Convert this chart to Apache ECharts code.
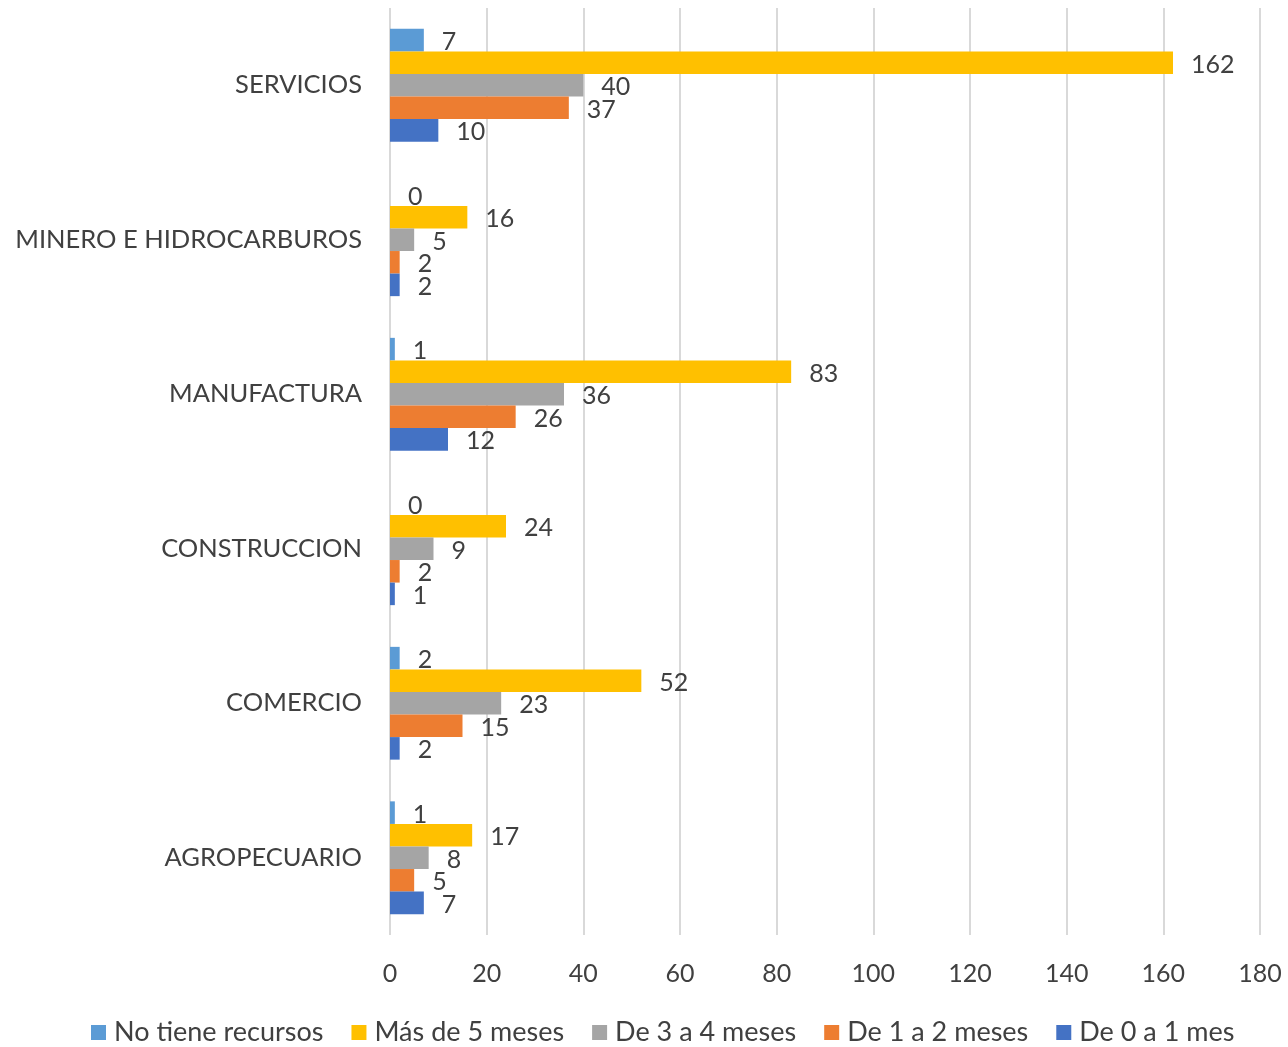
<!DOCTYPE html>
<html>
<head>
<meta charset="utf-8">
<script src="https://cdn.jsdelivr.net/npm/echarts@6/dist/echarts.min.js"></script>
<style>
  html, body { margin: 0; padding: 0; background: #fff; }
  #main { width: 1288px; height: 1047px; }
</style>
</head>
<body>
<div id="main"></div>
<script>
// categories, bottom to top (echarts draws the first category at the bottom)
const categories = ['AGROPECUARIO', 'COMERCIO', 'CONSTRUCCION', 'MANUFACTURA', 'MINERO E HIDROCARBUROS', 'SERVICIOS'];

const noTieneRecursos = [1, 2, 0, 1, 0, 7];
const masDeCinco = [17, 52, 24, 83, 16, 162];
const deTresACuatro = [8, 23, 9, 36, 5, 40];
const deUnoADos = [5, 15, 2, 26, 2, 37];
const deCeroAUno = [7, 2, 1, 12, 2, 10];

const font = 'Lato, "Open Sans", sans-serif';
const textColor = '#404040';

function barSeries(name, data, color) {
    return {
        name: name,
        type: 'bar',
        data: data,
        barGap: '0%',
        barCategoryGap: '27%',
        itemStyle: { color: color },
        label: {
            show: true,
            position: 'right',
            distance: 18,
            offset: [0, 2],
            color: textColor,
            fontSize: 25,
            fontFamily: font
        }
    };
}

const chart = echarts.init(document.getElementById('main'));
chart.setOption({
    animation: false,
    textStyle: { fontFamily: font },
    grid: { left: 390, right: 28, top: 8, bottom: 112, containLabel: false },
    legend: {
        bottom: -4,
        left: 86,
        itemWidth: 15,
        itemHeight: 15,
        itemGap: 28,
        icon: 'rect',
        textStyle: { color: textColor, fontSize: 27, fontFamily: font, padding: [0, 0, 0, 3] }
    },
    xAxis: {
        type: 'value',
        min: 0,
        max: 180,
        interval: 20,
        axisLine: { show: false },
        axisTick: { show: false },
        axisLabel: { color: textColor, fontSize: 25, margin: 26, fontFamily: font },
        splitLine: { show: true, lineStyle: { color: '#D9D9D9', width: 2 } }
    },
    yAxis: {
        type: 'category',
        data: categories,
        axisLine: { show: false },
        axisTick: { show: false },
        axisLabel: { color: textColor, fontSize: 25.5, margin: 28, fontFamily: font }
    },
    series: [
        barSeries('No tiene recursos', noTieneRecursos, '#5B9BD5'),
        barSeries('Más de 5 meses', masDeCinco, '#FFC000'),
        barSeries('De 3 a 4 meses', deTresACuatro, '#A5A5A5'),
        barSeries('De 1 a 2 meses', deUnoADos, '#ED7D31'),
        barSeries('De 0 a 1 mes', deCeroAUno, '#4472C4')
    ]
});
</script>
</body>
</html>
